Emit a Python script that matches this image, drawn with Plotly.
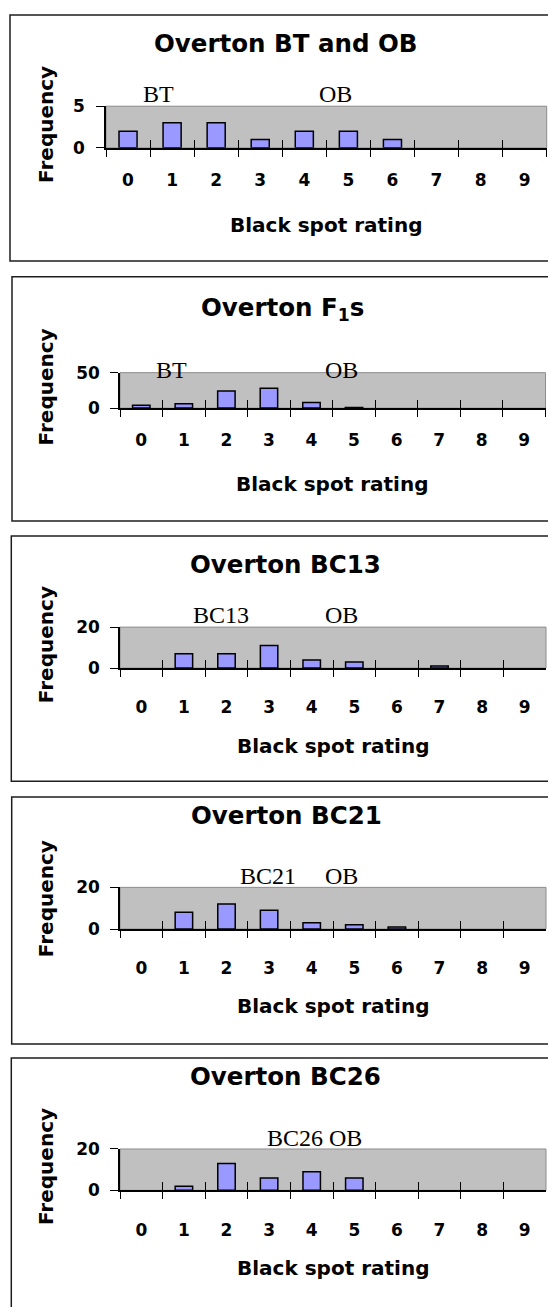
import plotly.graph_objects as go

# Black spot rating classes (x categories)
ratings = ["0", "1", "2", "3", "4", "5", "6", "7", "8", "9"]

# Frequency of plants in each rating class, one list per population
bt_and_ob = [2, 3, 3, 1, 2, 2, 1, 0, 0, 0]
f1s = [4, 6, 24, 28, 8, 1, 0, 0, 0, 0]
bc13 = [0, 7, 7, 11, 4, 3, 0, 1, 0, 0]
bc21 = [0, 8, 12, 9, 3, 2, 1, 0, 0, 0]
bc26 = [0, 2, 13, 6, 9, 6, 0, 0, 0, 0]

panel_titles = ["Overton BT and OB", "Overton F<sub>1</sub>s", "Overton BC13",
                "Overton BC21", "Overton BC26"]
y_max = [5, 50, 20, 20, 20]

# Parent markers: (label, position on the rating axis)
parent_marks = [
    [("BT", 0.68), ("OB", 4.70)],
    [("BT", 0.70), ("OB", 4.70)],
    [("BC13", 1.86), ("OB", 4.70)],
    [("BC21", 2.97), ("OB", 4.70)],
    [("BC26 OB", 4.06)],
]

W, H = 548, 1307


def px(x):
    return x / W


def py(y):
    return 1 - y / H


# Page layout of each panel, in pixels
panel_box = [  # left, top, bottom
    (10, 5, 255), (12, 271, 519), (11.3, 534.3, 783.3),
    (11.7, 799.3, 1050), (11.3, 1064.3, 1320),
]
plot_box = [  # left, right, top, bottom of the plotting area
    (106, 546.7, 97.7, 140), (120, 545.5, 368.3, 404.3),
    (120, 546, 626.7, 668.3), (120, 546, 891, 933.3),
    (120, 546, 1156.7, 1198.7),
]
title_y = [34, 304, 563, 818.5, 1083.5]
title_x = [285, 282, 285, 286, 285]
freq_y = [116.7, 383.3, 645, 903, 1175]
xtitle_y = [218, 481.7, 747.3, 1011.7, 1277.3]
mark_baseline = [95, 375, 624, 889, 1155]
xtick_standoff = [16, 16, 23, 23, 23]
ytick_standoff = [8, 7, 7, 7, 7]

series = [bt_and_ob, f1s, bc13, bc21, bc26]

BOLD = "DejaVu Sans"
fig = go.Figure()
annotations = []
shapes = []
layout = {}

for i in range(5):
    n = i + 1
    xa = "x" if n == 1 else f"x{n}"
    ya = "y" if n == 1 else f"y{n}"
    xo = f"x{n + 5}"
    l, r, t, b = plot_box[i]
    vals = series[i]

    fig.add_trace(go.Bar(
        x=ratings, y=vals, xaxis=xa, yaxis=ya,
        marker=dict(color="#9999FF",
                    line=dict(color="black",
                              width=[1.5 if v > 0 else 0 for v in vals])),
        showlegend=False, hoverinfo="x+y",
    ))
    # empty trace that carries the overlay axis used for the inner tick halves
    fig.add_trace(go.Scatter(x=[], y=[], xaxis=xo, yaxis=ya, showlegend=False))

    dom_x = [px(l), px(r)]
    dom_y = [py(b), py(t)]
    layout[f"xaxis{n}"] = dict(
        domain=dom_x, anchor=ya, type="category", categoryorder="array",
        categoryarray=ratings, range=[-0.5, 9.5], tickson="boundaries",
        ticks="outside", ticklen=7, tickwidth=1, tickcolor="black",
        showline=True, linecolor="black", linewidth=1.5, showgrid=False,
        zeroline=False, fixedrange=True, ticklabelstandoff=xtick_standoff[i],
        tickfont=dict(family=BOLD, size=17, color="black", weight="bold"),
    )
    layout[f"xaxis{n + 5}"] = dict(
        domain=dom_x, anchor=ya, overlaying=xa, range=[-0.5, 9.5],
        tickvals=[k - 0.5 for k in range(11)], ticks="inside", ticklen=8,
        tickwidth=1, tickcolor="black", showticklabels=False, showgrid=False,
        zeroline=False, showline=False, fixedrange=True,
    )
    layout[f"yaxis{n}"] = dict(
        domain=dom_y, anchor=xa, range=[0, y_max[i]], tickvals=[0, y_max[i]],
        ticks="outside", ticklen=8, tickwidth=1, tickcolor="black",
        showline=True, linecolor="black", linewidth=1.5, showgrid=False,
        zeroline=False, fixedrange=True, ticklabelstandoff=ytick_standoff[i],
        tickfont=dict(family=BOLD, size=17, color="black", weight="bold"),
    )

    # grey frame on the top/right of the plotting area
    shapes.append(dict(type="rect", xref=f"{xa} domain", yref=f"{ya} domain",
                       x0=0, x1=1, y0=0, y1=1, layer="below",
                       line=dict(color="#8c8c8c", width=1)))
    # outer chart border
    pl, pt, pb = panel_box[i]
    shapes.append(dict(type="rect", xref="paper", yref="paper",
                       x0=px(pl), x1=px(W + 20), y0=py(pb), y1=py(pt),
                       line=dict(color="#1e1e1e", width=1.5)))

    annotations.append(dict(
        text=panel_titles[i], xref="paper", yref="paper", x=px(title_x[i]),
        y=py(title_y[i]), xanchor="center", yanchor="middle", showarrow=False,
        font=dict(family=BOLD, size=24.5, color="black", weight="bold")))
    annotations.append(dict(
        text="Frequency", xref="paper", yref="paper", x=px(46), y=py(freq_y[i]),
        xanchor="center", yanchor="middle", textangle=-90, showarrow=False,
        font=dict(family=BOLD, size=20, color="black", weight="bold")))
    annotations.append(dict(
        text="Black spot rating", xref="paper", yref="paper",
        x=px((l + r) / 2), y=py(xtitle_y[i]), xanchor="center",
        yanchor="middle", showarrow=False,
        font=dict(family=BOLD, size=20, color="black", weight="bold")))
    for label, pos in parent_marks[i]:
        annotations.append(dict(
            text=label, xref=xo, yref="paper", x=pos,
            y=py(mark_baseline[i] + 6), xanchor="center", yanchor="bottom",
            showarrow=False,
            font=dict(family="Liberation Serif", size=24, color="black")))

fig.update_layout(
    width=W, height=H, margin=dict(l=0, r=0, t=0, b=0),
    paper_bgcolor="white", plot_bgcolor="#C0C0C0",
    bargap=0.59, showlegend=False,
    annotations=annotations, shapes=shapes, **layout,
)

fig.write_html("out.html")
